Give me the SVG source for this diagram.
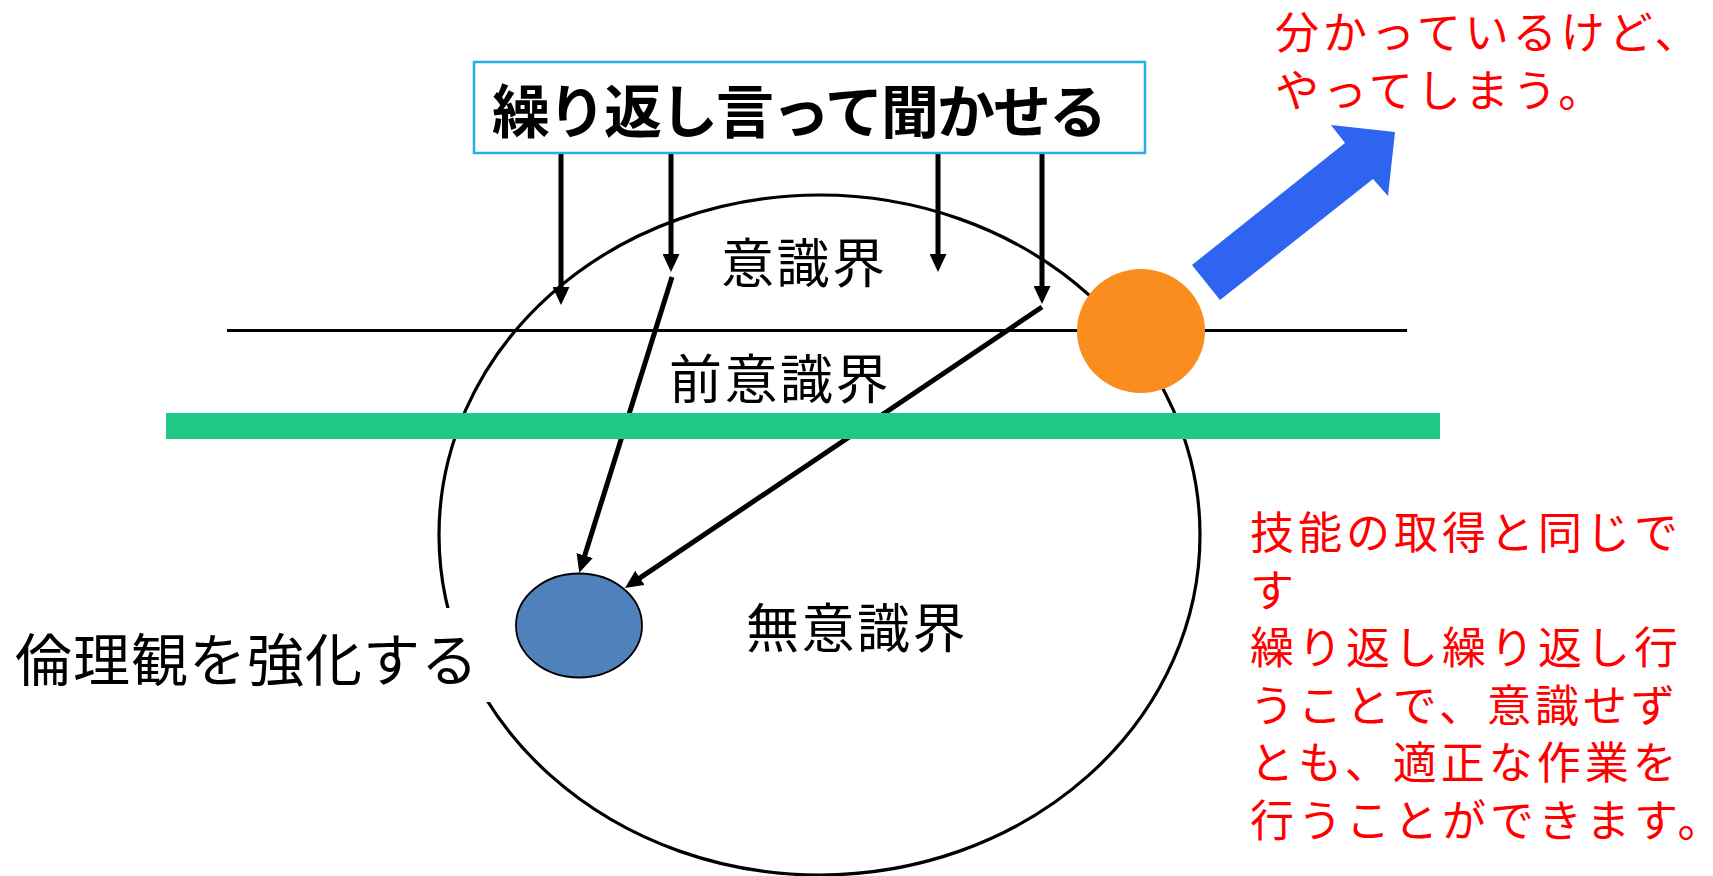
<svg xmlns="http://www.w3.org/2000/svg" width="1713" height="876" viewBox="0 0 1713 876">
<style>
.jp{font-family:"Noto Sans CJK JP","Noto Sans",sans-serif;}
.lbl{font-size:53px;fill:#000;letter-spacing:2.5px;}
.red{font-size:44px;fill:#FF0000;letter-spacing:4px;}
.conn{stroke:#000;stroke-width:5;fill:none;marker-end:url(#ah);}
</style>
<defs>
<marker id="ah" markerUnits="userSpaceOnUse" markerWidth="18" markerHeight="17" viewBox="0 0 18 17" refX="12" refY="8.5" orient="auto">
<path d="M0,0 L18,8.5 L0,17 z" fill="#000"/>
</marker>
</defs>
<rect width="1713" height="876" fill="#fff"/>
<g id="mind">
<ellipse cx="819.5" cy="535" rx="380.5" ry="340" fill="none" stroke="#000" stroke-width="3.2"/>
</g>
<g id="conscious-line">
<line x1="227" y1="330.5" x2="1407" y2="330.5" stroke="#000" stroke-width="3"/>
</g>
<g id="connectors">
<line class="conn" x1="561" y1="153" x2="561" y2="299"/>
<line class="conn" x1="671" y1="153" x2="671" y2="266"/>
<line class="conn" x1="938" y1="153" x2="938" y2="266"/>
<line class="conn" x1="1042" y1="153" x2="1042" y2="298"/>
<line class="conn" x1="672" y1="277" x2="581.1" y2="567"/>
<line class="conn" x1="1042" y1="307" x2="630" y2="584.6"/>
</g>
<g id="subconscious-line">
<rect x="166" y="413" width="1274" height="26" fill="#1FC985"/>
</g>
<g id="title">
<rect x="474" y="62" width="671" height="91" fill="#fff" stroke="#22B0E6" stroke-width="2.5"/>
<text class="jp" x="492" y="133" font-size="58" font-weight="bold" letter-spacing="-2">繰り返し言って聞かせる</text>
</g>
<g id="label-conscious"><text class="jp lbl" x="721" y="283">意識界</text></g>
<g id="label-preconscious"><text class="jp lbl" x="669" y="399">前意識界</text></g>
<g id="label-unconscious"><text class="jp lbl" x="746" y="648">無意識界</text></g>
<g id="orange">
<ellipse cx="1141" cy="331" rx="64" ry="62" fill="#FA8D1E"/>
</g>
<g id="blue-arrow">
<polygon points="1192,265 1345,143 1331,125 1395,132 1388,196 1373,179 1220,300" fill="#2F64F0"/>
</g>
<g id="ethics">
<ellipse cx="579" cy="625.5" rx="63" ry="52" fill="#4F81BD" stroke="#000" stroke-width="1.8"/>
</g>
<g id="ethics-label">
<rect x="8" y="608" width="484" height="94" fill="#fff"/>
<text class="jp" x="15" y="681" font-size="57" fill="#000" letter-spacing="1">倫理観を強化する</text>
</g>
<g id="note-top">
<text class="jp red" x="1275" y="49">分かっているけど、</text>
<text class="jp red" x="1275" y="107">やってしまう。</text>
</g>
<g id="note-right">
<text class="jp red" x="1250" y="549">技能の取得と同じで</text>
<text class="jp red" x="1250" y="607">す</text>
<text class="jp red" x="1250" y="664">繰り返し繰り返し行</text>
<text class="jp red" x="1250" y="722">うことで、意識せず</text>
<text class="jp red" x="1250" y="779">とも、適正な作業を</text>
<text class="jp red" x="1250" y="837">行うことができます。</text>
</g>
</svg>
